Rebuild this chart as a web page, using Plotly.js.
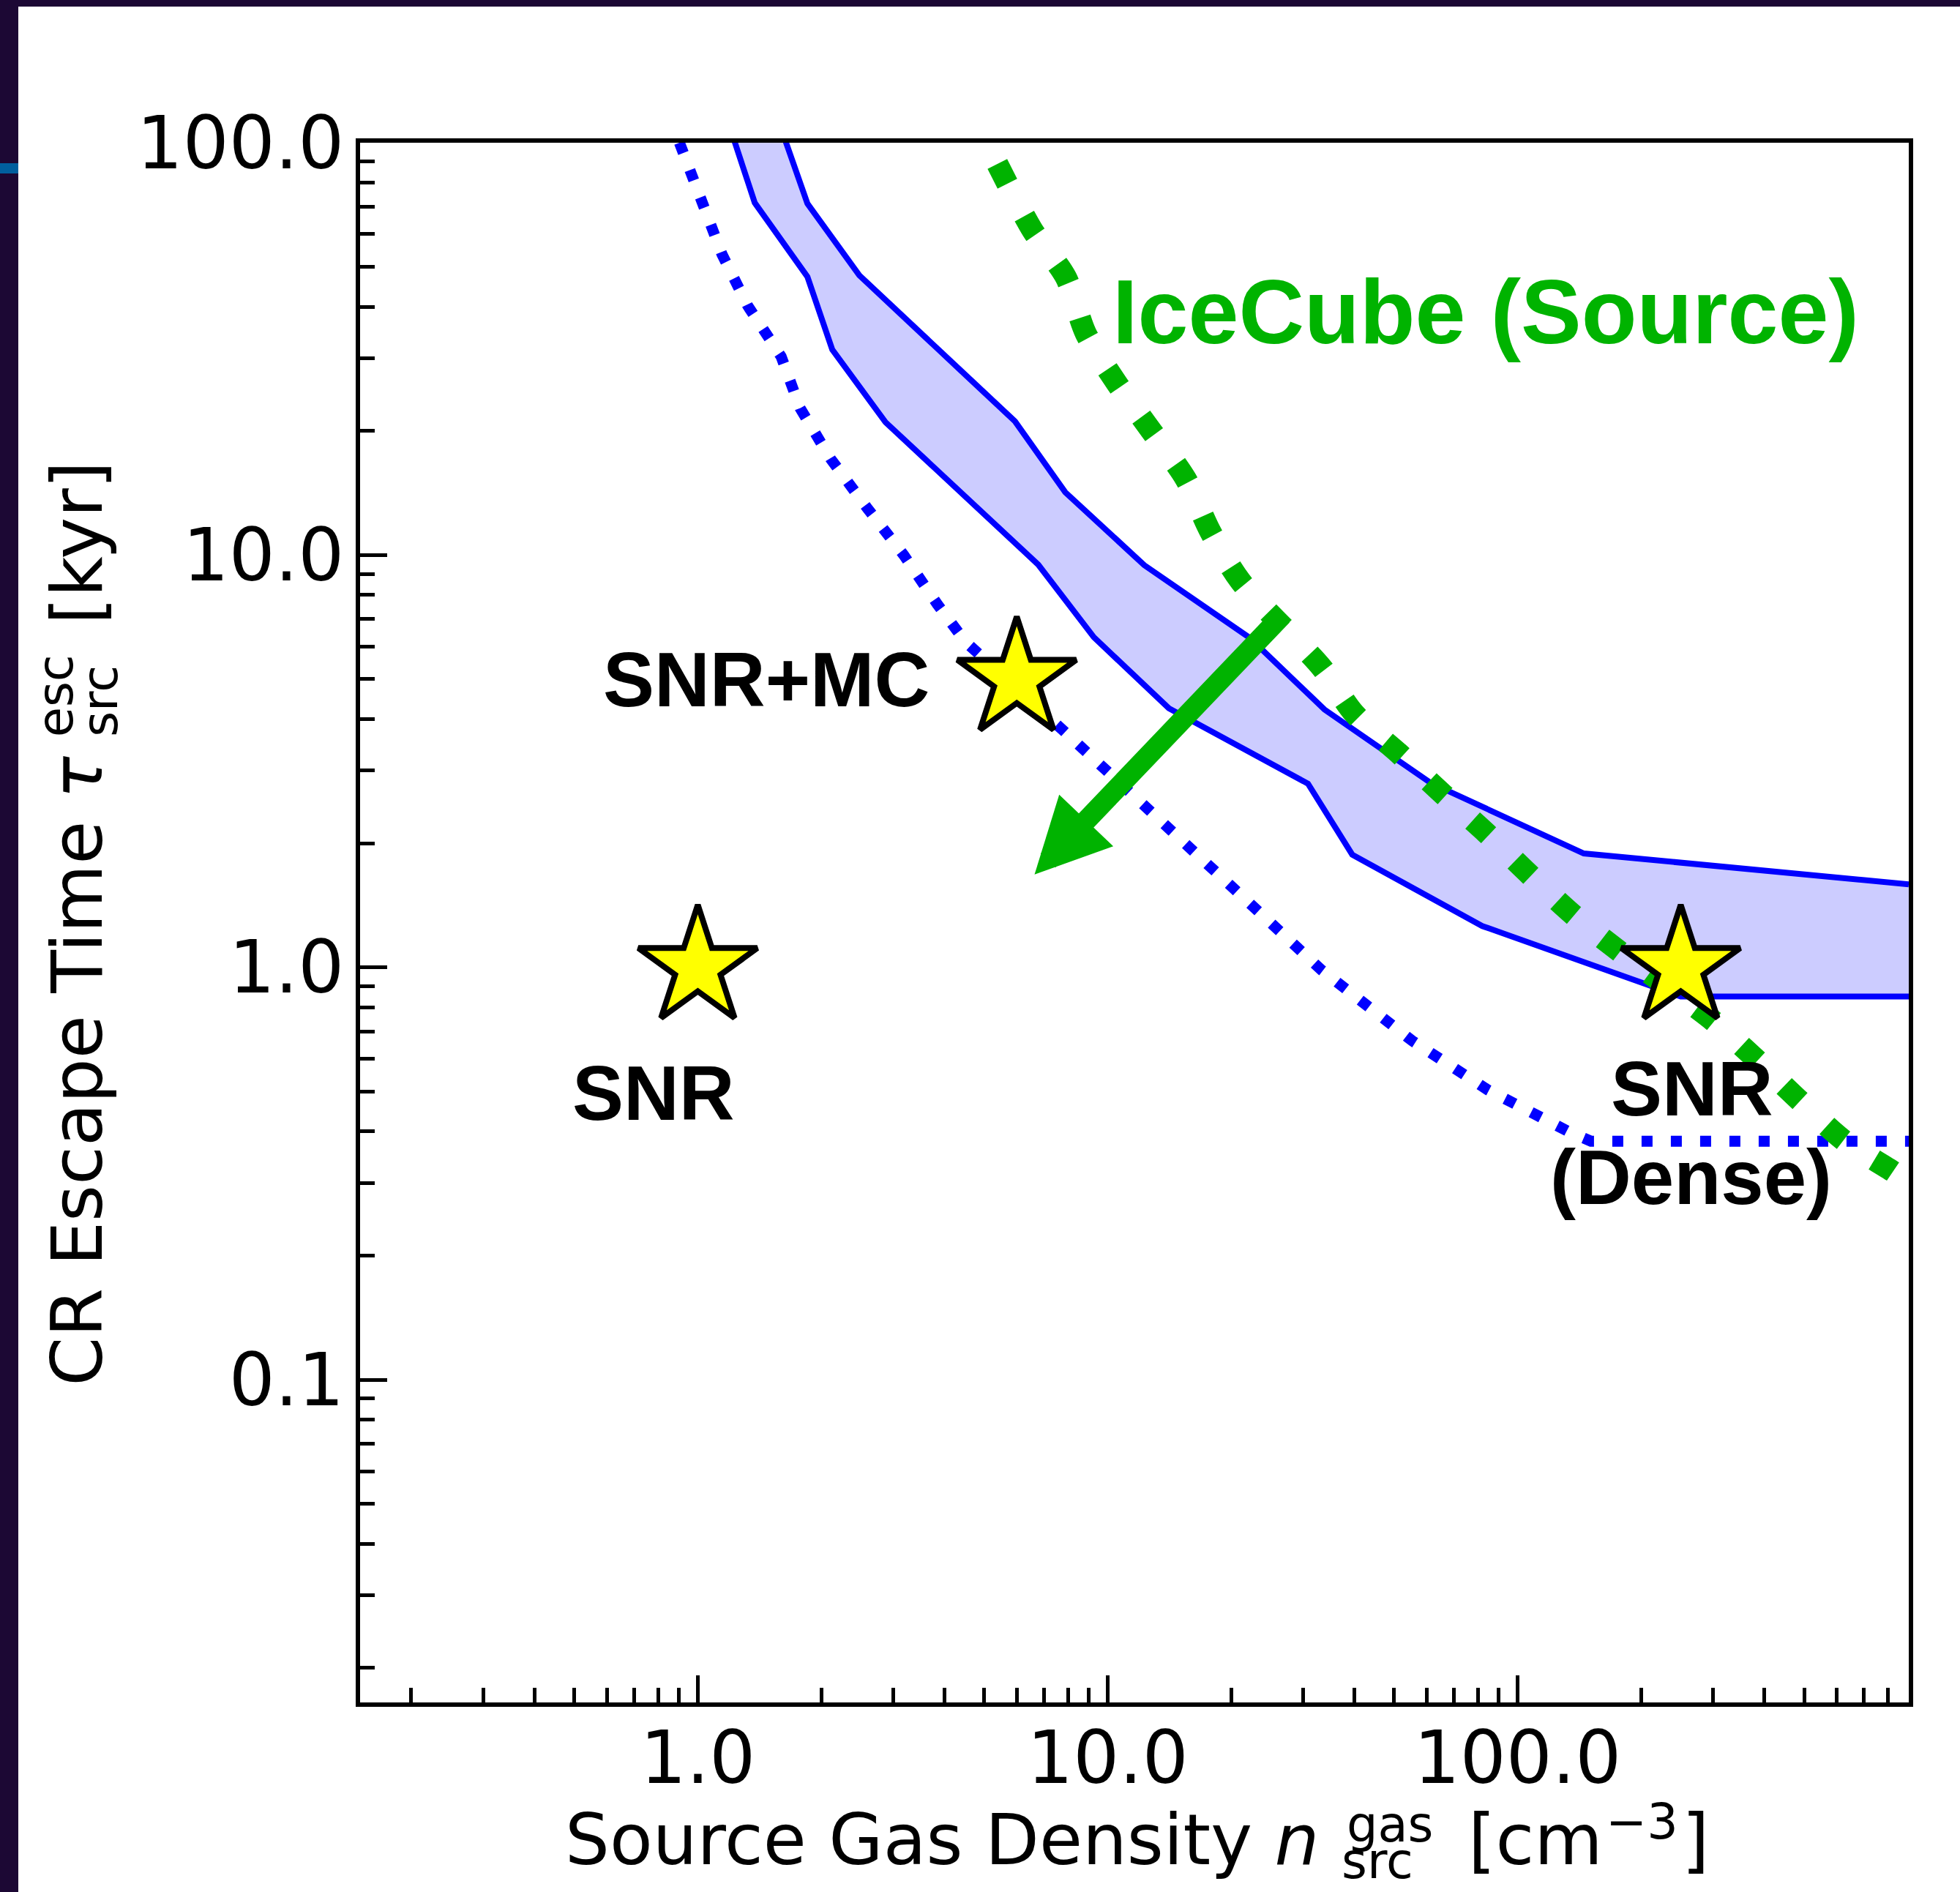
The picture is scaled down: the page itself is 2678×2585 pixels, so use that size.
<!DOCTYPE html>
<html><head><meta charset="utf-8">
<script src="https://cdn.plot.ly/plotly-3.0.1.min.js"></script>
<style>
html,body{margin:0;padding:0;background:#1c0834;width:2678px;height:2585px;overflow:hidden;}
#plot{position:absolute;left:25px;top:9px;width:2653px;height:2576px;}
#mark{position:absolute;left:0;top:223px;width:25px;height:14px;background:#005f9e;}
</style></head><body>
<div id="mark"></div><div id="plot"></div>
<script>
// ---------- data ----------
const bandUpperX = [1.54, 1.851, 2.477, 5.94, 7.88, 12.28, 22.2, 33.8, 61.4, 145, 900];
const bandUpperY = [120, 71.2, 47.7, 21.1, 14.2, 9.45, 6.30, 4.22, 2.80, 1.89, 1.59];
const bandLowerX = [1.16, 1.377, 1.851, 2.128, 2.87, 6.77, 9.25, 14.1, 30.8, 39.5, 82, 250, 900];
const bandLowerY = [120, 71.5, 47.3, 31.5, 21.0, 9.48, 6.32, 4.25, 2.79, 1.877, 1.26, 0.85, 0.85];

const dotX = [0.902, 1.012, 1.145, 1.322, 1.597, 1.777, 2.11, 2.59, 3.18, 3.84, 4.49, 7.78, 11.2, 14.2, 20.6, 33.3, 55.3, 84.5, 133, 151, 900];
const dotY = [100, 73.6, 53.7, 40.3, 30.3, 22.7, 17.1, 13.0, 10.0, 7.60, 6.17, 3.76, 2.68, 2.15, 1.53, 0.984, 0.664, 0.505, 0.40, 0.379, 0.379];

const iceX = [5.38, 6.55, 7.91, 8.84, 10.55, 12.8, 15.5, 17.8, 21.1, 33.2, 40.0, 51.4, 65.8, 83.8, 107.3, 136.6, 176, 300, 383, 490, 626, 825, 900];
const iceY = [88.8, 61.4, 47.1, 34.5, 26.0, 19.96, 15.3, 11.4, 8.63, 5.35, 4.12, 3.30, 2.63, 2.12, 1.674, 1.342, 1.099, 0.742, 0.597, 0.473, 0.38, 0.3195, 0.30];

const starX = [1.0, 6.0, 250];
const starY = [1.0, 5.0, 1.0];

const arrowTail = [26.8, 7.18];
const arrowHead = [6.63, 1.68];

const xRange = [0.15, 900];
const yRange = [0.0165, 100];

// ---------- layout helpers (page pixel -> paper) ----------
const PL = 492, PR = 2608, PT = 195, PB = 2326;
const px = x => (x - PL) / (PR - PL);
const py = y => (PB - y) / (PB - PT);

const BLUE = '#0000ff', GREEN = '#00b300', FILL = '#ccccff';

const traces = [
  { x: bandUpperX.concat(bandLowerX.slice().reverse()),
    y: bandUpperY.concat(bandLowerY.slice().reverse()),
    mode: 'lines', fill: 'toself', fillcolor: FILL, line: {width: 0}, hoverinfo: 'skip' },
  { x: bandUpperX, y: bandUpperY, mode: 'lines', line: {color: BLUE, width: 8} },
  { x: bandLowerX, y: bandLowerY, mode: 'lines', line: {color: BLUE, width: 8} },
  { x: dotX, y: dotY, mode: 'lines', line: {color: BLUE, width: 15, dash: '15px,25px'} },
  { x: iceX, y: iceY, mode: 'lines', line: {color: GREEN, width: 30, dash: '30px,50px', shape: 'spline', smoothing: 0.8} },
  { x: starX, y: starY, mode: 'markers',
    marker: {symbol: 'star', size: 122, color: '#ffff00', line: {color: 'black', width: 8}} }
];

const tf = {family: 'DejaVu Sans', size: 99, color: 'black'};
const axisCommon = {
  type: 'log', showgrid: false, zeroline: false,
  showline: true, linecolor: 'black', linewidth: 6, mirror: true,
  ticks: 'inside', ticklen: 37, tickwidth: 5, tickcolor: 'black',
  dtick: 1, tickformat: '.1f', tickfont: tf,
  minor: {ticks: 'inside', ticklen: 20, tickwidth: 5, tickcolor: 'black', dtick: 'D1', showgrid: false}
};

const T = 96, S = 67;
const dj = (size) => ({family: 'DejaVu Sans', size: size, color: 'black'});
const lab = (size, color) => ({family: 'Liberation Sans', size: size, color: color || 'black', weight: 'bold'});
const ann = (text, x, y, font, xa, ya, extra) => Object.assign({
  text: text, xref: 'paper', yref: 'paper', x: x, y: y, xanchor: xa || 'center', yanchor: ya || 'middle',
  showarrow: false, font: font, borderpad: 0
}, extra || {});

const annotations = [
  // x-axis title pieces
  ann('Source Gas Density <i>n</i>', px(771), py(2547 - 0.346 * T), dj(T), 'left'),
  ann('gas', px(1839), py(2516 - 0.346 * S), dj(S), 'left'),
  ann('src', px(1832), py(2566 - 0.346 * S), dj(S), 'left'),
  ann('[cm', px(2005), py(2547 - 0.346 * T), dj(T), 'left'),
  ann('\u22123', px(2193), py(2512 - 0.346 * S), dj(S), 'left'),
  ann(']', px(2297), py(2547 - 0.346 * T), dj(T), 'left'),
  // y-axis title pieces (rotated)
  ann('CR Escape Time <i>\u03c4</i>', px(139 - 0.346 * T), py(1895), dj(T), 'center', 'bottom', {textangle: -90}),
  ann('esc', px(100 - 0.346 * S), py(1008), dj(S), 'center', 'bottom', {textangle: -90}),
  ann('src', px(160 - 0.346 * S), py(1008), dj(S), 'center', 'bottom', {textangle: -90}),
  ann('[kyr]', px(139 - 0.346 * T), py(854), dj(T), 'center', 'bottom', {textangle: -90}),
  // labels
  ann('IceCube (Source)', px(2030), py(469 - 0.3465 * 124), lab(124, GREEN)),
  ann('SNR+MC', px(1047), py(965 - 0.3465 * 105), lab(105)),
  ann('SNR', px(893), py(1530 - 0.3465 * 105), lab(105)),
  ann('SNR', px(2312), py(1524 - 0.3465 * 105), lab(105)),
  ann('(Dense)', px(2310), py(1645 - 0.3465 * 105), lab(105)),
  // arrow
  { text: '', showarrow: true, xref: 'x', yref: 'y', axref: 'x', ayref: 'y',
    x: Math.log10(arrowHead[0]), y: Math.log10(arrowHead[1]),
    ax: Math.log10(arrowTail[0]), ay: Math.log10(arrowTail[1]),
    arrowhead: 2, arrowsize: 0.73, arrowwidth: 28, arrowcolor: GREEN, standoff: 0, startstandoff: 0 }
];

const layout = {
  width: 2653, height: 2576,
  margin: {l: PL - 25, r: 2678 - PR, t: PT - 9, b: 2585 - PB, pad: 0},
  paper_bgcolor: 'white', plot_bgcolor: 'white',
  showlegend: false,
  xaxis: Object.assign({}, axisCommon, {range: xRange.map(Math.log10), ticklabelstandoff: -15}),
  yaxis: Object.assign({}, axisCommon, {range: yRange.map(Math.log10), ticklabelstandoff: -4}),
  annotations: annotations
};

Plotly.newPlot('plot', traces, layout, {displayModeBar: false, responsive: false});
</script>
</body></html>
